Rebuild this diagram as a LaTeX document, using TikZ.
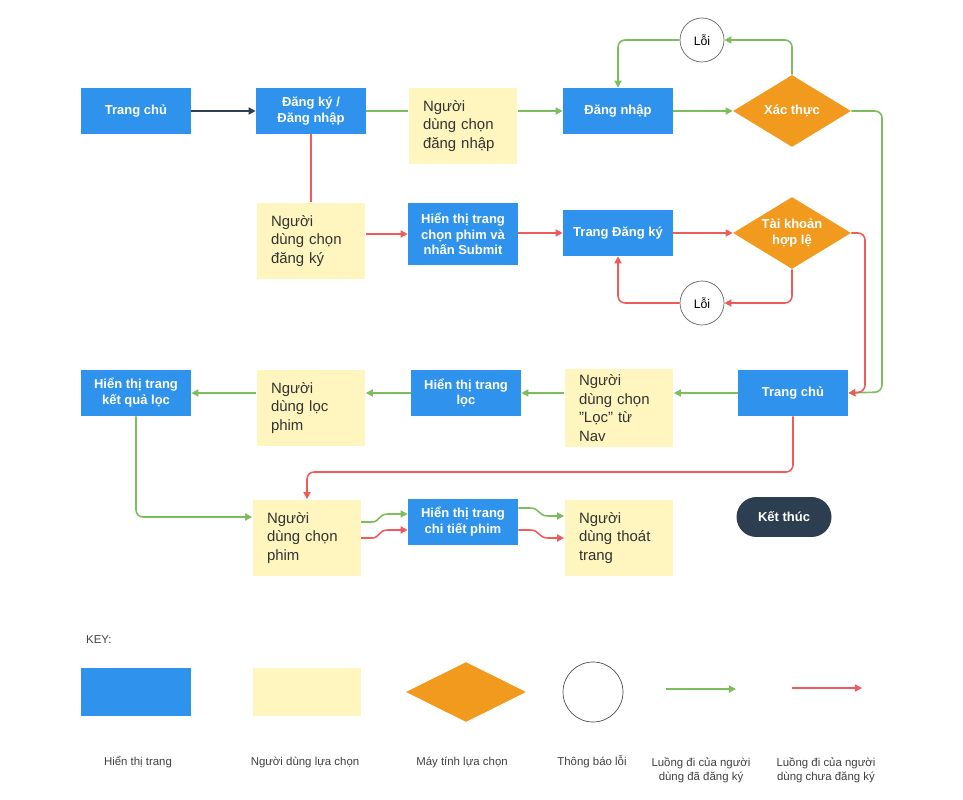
\documentclass[tikz,border=0pt]{standalone}
\usepackage{fontspec}
\setmainfont{Liberation Sans}
\usetikzlibrary{shapes.geometric,arrows.meta}
\definecolor{cblue}{HTML}{2F93EE}
\definecolor{cyel}{HTML}{FFF5BE}
\definecolor{corg}{HTML}{F29A1E}
\definecolor{cgrn}{HTML}{7DBE5C}
\definecolor{cred}{HTML}{EE5B5B}
\definecolor{cdark}{HTML}{2C3E50}
\begin{document}
\begin{tikzpicture}[x=0.02cm,y=-0.02cm,
 blue/.style={fill=cblue,text=white,font=\bfseries\fontsize{7.4}{9}\selectfont,align=center,minimum width=2.2cm,minimum height=0.92cm,inner sep=1pt},
 yel/.style={fill=cyel,text=black!80,font=\fontsize{8.5}{10.5}\selectfont,align=left,minimum width=2.18cm,minimum height=1.54cm,text width=1.6cm},
 dia/.style={diamond,fill=corg,text=white,font=\bfseries\fontsize{7.4}{9}\selectfont,align=center,minimum width=2.36cm,minimum height=1.44cm,aspect=1.64,inner sep=0pt},
 err/.style={circle,draw=black!60,fill=white,minimum size=0.88cm,font=\fontsize{7}{8}\selectfont,inner sep=0pt},
 g/.style={cgrn,line width=0.9pt},
 r/.style={cred,line width=0.9pt},
 a/.style={-{Triangle[length=4pt,width=4pt]}},
 lab/.style={font=\fontsize{6.5}{8}\selectfont,align=center,text=black!75}]
\useasboundingbox (0,0) rectangle (963,800);
\node[blue] (tc1) at (136,111) {Trang chủ};
\node[blue] (dk) at (311,111) {Đăng ký /\\Đăng nhập};
\node[yel] (ycdn) at (463,126) {Người dùng chọn đăng nhập};
\node[blue] (dn) at (618,111) {Đăng nhập};
\node[dia] (xt) at (792,111) {Xác thực};
\node[err] (l1) at (702,40) {Lỗi};
\node[yel] (ycdk) at (311,241) {Người dùng chọn đăng ký};
\node[blue,minimum height=1.24cm] (htsub) at (463,234) {Hiển thị trang\\chọn phim và\\nhấn Submit};
\node[blue] (tdk) at (618,233) {Trang Đăng ký};
\node[dia] (tk) at (792,233) {Tài khoản\\hợp lệ};
\node[err] (l2) at (702,303) {Lỗi};
\node[blue] (tc2) at (793,393) {Trang chủ};
\node[yel] (yloc) at (619,408) {Người dùng chọn "Lọc" từ Nav};
\node[blue] (htl) at (466,393) {Hiển thị trang\\lọc};
\node[yel] (ylp) at (311,408) {Người dùng lọc phim};
\node[blue] (htkq) at (136,393) {Hiển thị trang\\kết quả lọc};
\node[yel] (ycp) at (307,538) {Người dùng chọn phim};
\node[blue] (htct) at (463,522) {Hiển thị trang\\chi tiết phim};
\node[yel] (ytt) at (619,538) {Người dùng thoát trang};
\node[fill=cdark,text=white,rounded corners=0.4cm,minimum width=1.9cm,minimum height=0.8cm,font=\bfseries\fontsize{7.4}{9}\selectfont] (kt) at (784,517) {Kết thúc};
% connectors
\draw[cdark,line width=0.9pt,a] (tc1) -- (dk);
\draw[g] (dk) -- (ycdn.west|-dk);
\draw[g,a] (ycdn.east|-dn) -- (dn);
\draw[g,a] (dn) -- (xt);
\draw[g,a,rounded corners=4pt] (xt.north) -- (xt.north|-l1) -- (l1);
\draw[g,a,rounded corners=4pt] (l1) -- (dn.north|-l1) -- (dn.north);
\draw[g,a,rounded corners=4pt] (xt.east) -- (882,111) -- (882,392) -- (tc2.east);
\draw[r] (dk) -- (dk|-ycdk.north);
\draw[r,a] (ycdk.east|-htsub) -- (htsub);
\draw[r,a] (htsub.east|-tdk) -- (tdk);
\draw[r,a] (tdk) -- (tk);
\draw[r,a,rounded corners=4pt] (tk.east) -- (865,233) -- (865,392) -- (tc2.east);
\draw[r,a,rounded corners=4pt] (tk.south) -- (tk.south|-l2) -- (l2);
\draw[r,a,rounded corners=4pt] (l2) -- (tdk.south|-l2) -- (tdk.south);
\draw[g,a] (tc2) -- (yloc.east|-tc2);
\draw[g,a] (yloc.west|-htl) -- (htl);
\draw[g,a] (htl) -- (ylp.east|-htl);
\draw[g,a] (ylp.west|-htkq) -- (htkq);
\draw[g,a,rounded corners=4pt] (htkq.south) -- (136,517) -- (ycp.west|-kt);
\draw[r,a,rounded corners=4pt] (tc2.south) -- (793,472) -- (307,472) -- (ycp.north);
\draw[g,a] (361,522) -- (372,522) .. controls (380,522) and (378,514) .. (388,514) -- (htct.west|-0,514);
\draw[r,a] (361,538) -- (372,538) .. controls (380,538) and (378,530) .. (388,530) -- (htct.west|-0,530);
\draw[g,a] (htct.east|-0,508) -- (530,508) .. controls (540,508) and (538,516) .. (548,516) -- (ytt.west|-0,516);
\draw[r,a] (htct.east|-0,530) -- (530,530) .. controls (540,530) and (538,538) .. (548,538) -- (ytt.west|-0,538);
% key
\node[anchor=west,font=\fontsize{6.5}{8}\selectfont,text=black!75] (key) at (80,640) {KEY:};
\node[blue,minimum height=0.96cm] (k1) at (136,692) {};
\node[yel,minimum height=0.96cm] (k2) at (307,692) {};
\node[dia,minimum width=2.4cm,minimum height=1.2cm,aspect=2] (k3) at (466,692) {};
\node[circle,draw=black!70,minimum size=1.2cm] (k4) at (593,692) {};
\coordinate (g1) at (666,689); \coordinate (g2) at (736,689);
\coordinate (r1) at (792,688); \coordinate (r2) at (862,688);
\draw[g,a] (g1) -- (g2);
\draw[r,a] (r1) -- (r2);
\node[lab] (t1) at (138,762) {Hiển thị trang};
\node[lab] (t2) at (305,762) {Người dùng lựa chọn};
\node[lab] (t3) at (462,762) {Máy tính lựa chọn};
\node[lab] (t4) at (592,762) {Thông báo lỗi};
\node[lab] (t5) at (701,770) {Luồng đi của người\\dùng đã đăng ký};
\node[lab] (t6) at (826,770) {Luồng đi của người\\dùng chưa đăng ký};
\end{tikzpicture}
\end{document}
